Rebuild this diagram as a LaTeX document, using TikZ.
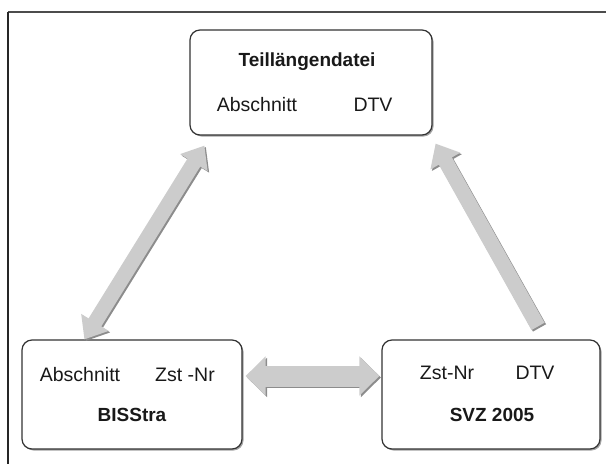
\documentclass[tikz,border=0pt]{standalone}
\usepackage{fontspec}
\setmainfont{Liberation Sans}
\usetikzlibrary{shadows,arrows.meta,calc}
\begin{document}
\begin{tikzpicture}[x=1pt,y=-1pt,
  box/.style={draw=black!80, line width=1.2pt, rounded corners=10pt, fill=white,
    minimum height=107pt, inner sep=0pt,
    drop shadow={shadow xshift=1.5pt, shadow yshift=-1.5pt, fill=black!60, opacity=0.6}},
  txt/.style={font=\fontsize{19.5}{23}\selectfont, inner sep=0pt, text=black!90},
  ttl/.style={font=\fontsize{19}{23}\selectfont\bfseries, inner sep=0pt, text=black!90},
  barrow/.style={draw=black!20, line width=#1},
  bshadow/.style={draw=black!45, line width=#1, transform canvas={shift={(1.5pt,-1.5pt)}}}
]
\useasboundingbox (0,0) rectangle (606,464);
% frame
\draw[black!70, line width=1.5pt] (606,12) -- (8,12);
\draw[black!85, line width=1.5pt] (8,12) -- (8,464);
% boxes
\node[box, minimum width=242pt, minimum height=105pt] (top) at (311,82.5) {};
\node[box, minimum width=220pt, minimum height=109pt] (bis) at (132,394.5) {};
\node[box, minimum width=218pt, minimum height=109pt] (svz) at (491,394.5) {};
% texts
\node[ttl] (t1) at (307,62) {Teillängendatei};
\node[txt] (t2) at (257,105) {Abschnitt};
\node[txt] (t3) at (373,105) {DTV};
\node[txt] (b1) at (80,375) {Abschnitt};
\node[txt] (b2) at (185,375) {Zst -Nr};
\node[ttl] (b3) at (132,415) {BISStra};
\node[txt] (s1) at (447,373) {Zst-Nr};
\node[txt] (s2) at (535,373) {DTV};
\node[ttl] (s3) at (492,415) {SVZ 2005};
% arrow endpoints
\coordinate (lA) at ($(top.south west)+(15,10)$);
\coordinate (lB) at ($(bis.north west)+(63,0)$);
\coordinate (hA) at ($(bis.east)+(3,-18.5)$);
\coordinate (hB) at ($(svz.west)+(-2,-18.5)$);
\coordinate (rA) at ($(svz.north)+(47,-13)$);
\coordinate (rB) at ($(top.south east)+(3,8)$);
% shadows of block arrows
\draw[bshadow=15pt, {Triangle[length=20pt,width=31pt]}-{Triangle[length=20pt,width=31pt]}] (lA) -- (lB);
\draw[bshadow=21pt, {Triangle[length=20pt,width=38pt]}-{Triangle[length=20pt,width=38pt]}] (hA) -- (hB);
\draw[bshadow=15pt, -{Triangle[length=20pt,width=33pt]}] (rA) -- (rB);
% block arrows
\draw[barrow=15pt, {Triangle[length=20pt,width=31pt]}-{Triangle[length=20pt,width=31pt]}] (lA) -- (lB);
\draw[barrow=21pt, {Triangle[length=20pt,width=38pt]}-{Triangle[length=20pt,width=38pt]}] (hA) -- (hB);
\draw[barrow=15pt, -{Triangle[length=20pt,width=33pt]}] (rA) -- (rB);
\end{tikzpicture}
\end{document}
